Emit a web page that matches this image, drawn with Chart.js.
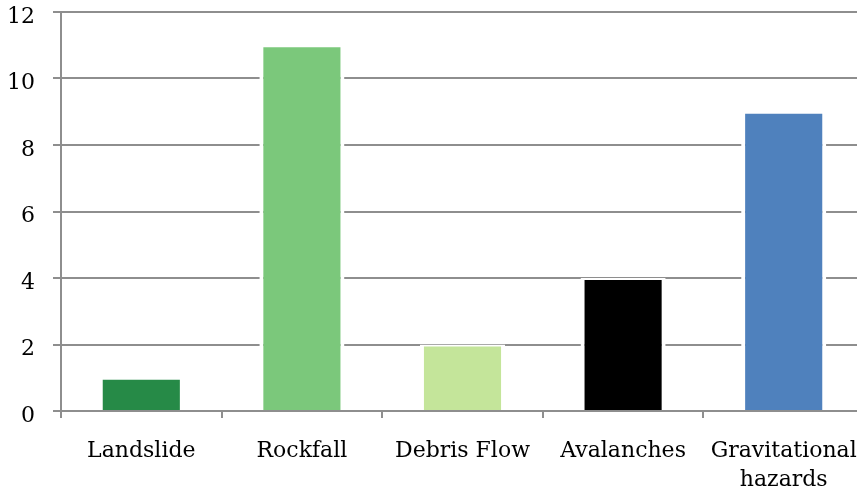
<!DOCTYPE html>
<html>
<head>
<meta charset="utf-8">
<script src="https://cdn.jsdelivr.net/npm/chart.js@4.4.1/dist/chart.umd.min.js"></script>
<style>
  html, body { margin: 0; padding: 0; background: #fff; overflow: hidden; }
  #wrap { width: 868px; height: 497px; }
</style>
</head>
<body>
<div id="wrap"><canvas id="c" width="868" height="497"></canvas></div>
<script>
// Number of recorded events by hazard type
const categories = ['Landslide', 'Rockfall', 'Debris Flow', 'Avalanches', ['Gravitational', 'hazards']];
const counts = [1, 11, 2, 4, 9];
const barColors = ['#268a47', '#7bc87b', '#c4e59a', '#000000', '#4f81bd'];
const yTicks = [0, 2, 4, 6, 8, 10, 12];

const gridColor = '#8e8e8e';
const fontFamily = '"DejaVu Serif", serif';

new Chart(document.getElementById('c'), {
  type: 'bar',
  data: {
    labels: categories,
    datasets: [{
      data: counts,
      backgroundColor: barColors,
      borderColor: '#ffffff',
      borderWidth: { top: 2, left: 4, right: 4, bottom: 0 },
      borderSkipped: 'start',
      barPercentage: 0.53,
      categoryPercentage: 1.0
    }]
  },
  options: {
    responsive: false,
    devicePixelRatio: 1,
    animation: false,
    layout: { padding: { left: 7, right: 4, top: 12, bottom: 0 } },
    plugins: { legend: { display: false }, tooltip: { enabled: false } },
    scales: {
      x: {
        offset: true,
        afterFit: (axis) => { axis.height = 86; axis.paddingLeft = 0; axis.paddingRight = 0; },
        grid: {
          offset: true,
          drawOnChartArea: false,
          drawTicks: true,
          tickLength: 7,
          color: gridColor,
          lineWidth: 2
        },
        border: { display: true, color: gridColor, width: 2 },
        ticks: {
          color: '#000',
          padding: 19,
          maxRotation: 0,
          autoSkip: false,
          font: { family: fontFamily, size: 22, lineHeight: 1.3 }
        }
      },
      y: {
        min: 0,
        max: 12,
        afterBuildTicks: (axis) => { axis.ticks = yTicks.map(v => ({ value: v })); },
        afterFit: (axis) => { axis.width = 54; axis.paddingTop = 0; axis.paddingBottom = 0; },
        grid: {
          drawTicks: true,
          tickLength: 8,
          color: gridColor,
          lineWidth: 2
        },
        border: { display: true, color: gridColor, width: 2 },
        ticks: {
          color: '#000',
          padding: 18,
          labelOffset: 5,
          font: { family: fontFamily, size: 22, lineHeight: 1.0 }
        }
      }
    }
  }
});
</script>
</body>
</html>
